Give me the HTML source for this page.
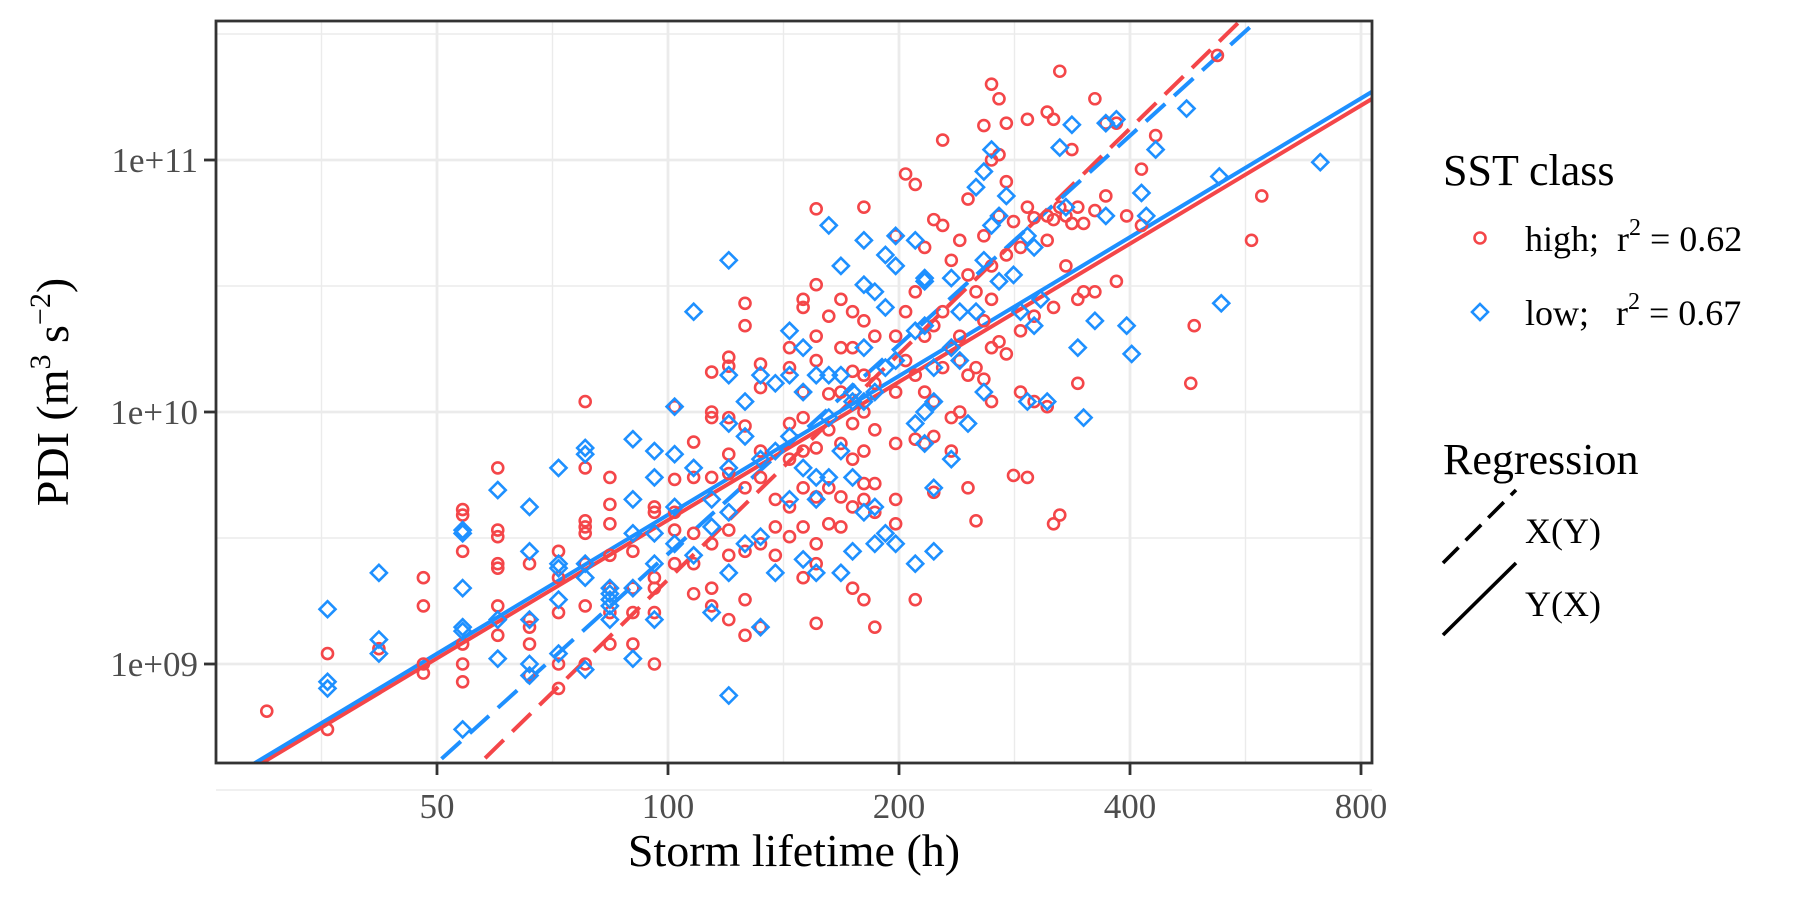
<!DOCTYPE html>
<html><head><meta charset="utf-8"><style>
html,body{margin:0;padding:0;background:#fff;overflow:hidden;width:1800px;height:900px;}
svg{display:block;font-family:"Liberation Serif",serif;}
</style></head><body>
<svg id="chart" width="1800" height="900" viewBox="0 0 1800 900" xmlns="http://www.w3.org/2000/svg">
<rect x="0" y="0" width="1800" height="900" fill="#fff"/>
<g id="grid"></g>
<g id="lines"></g>
<g id="pts"></g>
<rect x="216" y="21" width="1156" height="742" fill="none" stroke="#333" stroke-width="2.8"/>
<g id="axes"></g>
<text x="794" y="866" font-size="46" text-anchor="middle" fill="#000">Storm lifetime (h)</text>
<text transform="translate(68,392) rotate(-90)" font-size="46" text-anchor="middle" fill="#000">PDI (m<tspan font-size="30" dy="-18">3</tspan><tspan dy="18"> s</tspan><tspan font-size="30" dy="-18">−2</tspan><tspan dy="18">)</tspan></text>
<g>
<text x="1443" y="185" font-size="44" fill="#000">SST class</text>
<circle cx="1480" cy="238" r="5.5" fill="none" stroke="#F44649" stroke-width="2.6"/>
<text x="1525" y="251" font-size="36" fill="#000" xml:space="preserve">high;  r<tspan font-size="24" dy="-16">2</tspan><tspan dy="16"> = 0.62</tspan></text>
<path d="M1480 304 L1488 312 L1480 320 L1472 312 Z" fill="none" stroke="#1E90FF" stroke-width="2.6"/>
<text x="1525" y="325" font-size="36" fill="#000" xml:space="preserve">low;   r<tspan font-size="24" dy="-16">2</tspan><tspan dy="16"> = 0.67</tspan></text>
</g>
<g>
<text x="1443" y="474" font-size="44" fill="#000">Regression</text>
<line x1="1443" y1="563" x2="1516" y2="490" stroke="#000" stroke-width="3.6" stroke-dasharray="22,10"/>
<text x="1525" y="543" font-size="36" fill="#000">X(Y)</text>
<line x1="1443" y1="635" x2="1516" y2="563" stroke="#000" stroke-width="3.6"/>
<text x="1525" y="616" font-size="36" fill="#000">Y(X)</text>
</g>
</svg>
<script>
const xTicks=[50,100,200,400,800];
const xTickLabels=["50","100","200","400","800"];
const yTicks=[1e9,1e10,1e11];
const yTickLabels=["1e+09","1e+10","1e+11"];
// regression: log10(PDI) = a + b*log10(hours)
const regIntercept={highYX:5.927,lowYX:5.932,highXY:3.389,lowXY:3.925};
const regSlope={highYX:1.822,lowYX:1.83,highXY:2.973,lowXY:2.756};
// high SST: hours, PDI in 1e9
const highHours=[30,36,36,42,48,48,48,48,54,54,54,54,54,54,60,60,60,60,60,60,60,66,66,66,66,66,72,72,72,72,72,78,78,78,78,78,78,78,78,84,84,84,84,84,84,84,90,90,90,90,96,96,96,96,96,96,102,102,102,102,102,108,108,108,108,108,114,114,114,114,114,114,114,120,120,120,120,120,120,120,120,126,126,126,126,126,126,126,132,132,132,132,132,132,138,138,138,144,144,144,144,144,144,150,150,150,150,150,150,150,150,156,156,156,156,156,156,156,156,156,162,162,162,162,162,168,168,168,168,168,168,174,174,174,174,174,174,174,180,180,180,180,180,180,180,180,186,186,186,186,186,186,198,198,198,198,198,198,204,204,204,210,210,210,210,210,216,216,216,216,222,222,222,222,222,228,228,228,228,234,234,234,234,240,240,240,240,246,246,246,246,252,252,252,258,258,258,258,264,264,264,264,264,264,270,270,270,270,276,276,276,276,282,282,288,288,288,294,294,294,300,300,300,312,312,312,312,318,318,318,318,324,324,324,330,330,336,336,342,342,342,348,348,360,360,360,372,372,384,384,396,414,414,432,485,480,576,594,520];
const highPDI=[0.65,1.1,0.55,1.15,2.2,1.7,1.0,0.92,4.1,3.9,2.8,1.2,1.0,0.85,6.0,3.4,3.2,2.5,2.4,1.7,1.3,2.5,1.5,1.4,1.2,0.9,2.8,2.2,1.6,1.0,0.8,11,6.0,3.7,3.5,3.3,2.5,1.7,1.0,5.5,4.3,3.6,2.7,2.0,1.6,1.2,2.8,2.0,1.6,1.2,4.2,4.0,2.2,2.0,1.6,1.0,10.5,5.4,4.0,3.4,2.5,7.6,5.5,3.3,2.5,1.9,14.4,10.0,9.5,5.5,3.0,2.0,1.7,16.5,15.2,9.5,6.8,5.7,3.4,2.7,1.5,27,22,8.8,5.0,2.8,1.8,1.3,15.5,12.5,7.0,5.5,3.0,1.4,4.5,3.5,2.7,18,15,9.0,6.5,4.2,3.2,28,26,12,9.5,7.0,5.0,3.5,2.2,64,32,20,16,7.2,4.6,3.0,2.5,1.45,24,11.8,8.5,5.0,3.6,28,18,12,7.5,4.6,3.5,25,18,14.5,9.0,6.5,4.2,2.0,65,23,14,10,7.0,5.2,4.5,1.8,20,13,8.5,5.2,4.0,1.4,50,20,12,7.5,4.5,3.6,88,25,16,80,30,14,7.8,1.8,45,20,12,7.5,58,22,11,8,4.8,120,55,25,15,40,18,9.5,7.0,48,20,16,10,70,35,14,5.0,30,15,3.7,137,50,23,13.5,200,100,38,28,18,11,175,105,60,19,140,82,42,17,57,5.6,45,21,12,145,65,5.5,59,24,11,155,60,48,10.5,145,58,26,3.6,225,65,3.9,60,38,110,56,65,28,13,30,56,175,63,30,140,72,33,140,60,92,55,125,22,13,48,72,260];
// low SST
const lowHours=[36,36,36,42,42,42,54,54,54,54,54,54,60,60,60,66,66,66,66,66,72,72,72,72,72,78,78,78,78,78,84,84,84,84,84,90,90,90,90,90,96,96,96,96,96,102,102,102,102,108,108,108,114,114,114,120,120,120,120,120,120,120,126,126,126,132,132,132,132,138,138,138,144,144,144,144,150,150,150,150,156,156,156,156,162,162,162,162,168,168,168,168,174,174,174,174,180,180,180,180,180,186,186,186,186,192,192,192,192,198,198,198,198,210,210,210,210,216,216,216,216,216,222,222,222,222,234,234,234,240,240,246,252,252,258,258,258,264,264,270,270,276,282,288,294,294,300,300,306,312,324,330,336,342,348,360,372,372,384,396,402,414,420,432,474,523,526,708];
const lowPDI=[1.65,0.85,0.8,2.3,1.25,1.1,3.4,3.3,2.0,1.4,1.35,0.55,4.9,1.5,1.05,4.2,2.8,1.5,1.0,0.9,6.0,2.5,2.4,1.8,1.1,7.2,6.8,2.5,2.2,0.95,2.0,1.9,1.8,1.7,1.5,7.8,4.5,3.3,2.0,1.05,7.0,5.5,3.3,2.5,1.5,10.5,6.8,4.2,3.0,25,6.0,2.7,4.5,3.5,1.6,40,14,9.0,6.0,4.0,2.3,0.75,11,8.0,3.0,14,6.5,3.2,1.4,13,7.0,2.3,21,14,8.0,4.5,18,12,6.0,2.6,14,5.5,4.5,2.3,55,14,9.5,5.5,38,14,7.0,2.3,12,11,5.5,2.8,48,32,18,11,4.0,30,12,4.2,3.0,42,26,15,3.3,50,38,16,3.0,48,21,9,2.5,33,34,22,10,7.5,15,11,5.0,2.8,34,18,6.5,25,16,9,78,25,90,40,12,110,55,60,33,72,35,25,50,11,45,22,28,11,112,65,138,18,9.5,23,140,60,145,22,17,74,60,110,160,86,27,98];

const X0=668, XD=231, Y0=664, YD=252;
const xs=v=>X0+XD*Math.log2(v/100);
const ys=v=>Y0-YD*(Math.log10(v)-9);
const NS="http://www.w3.org/2000/svg";
function mk(tag,attrs,parent){const e=document.createElementNS(NS,tag);for(const k in attrs)e.setAttribute(k,attrs[k]);parent.appendChild(e);return e;}
const grid=document.getElementById('grid'),axes=document.getElementById('axes'),pts=document.getElementById('pts'),lines=document.getElementById('lines');
const L=216,R=1372,T=21,B=763;
[35.355,70.71,141.42,282.84,565.69].forEach(v=>{const l=mk('line',{x1:xs(v),x2:xs(v),y1:T,y2:B,stroke:'#EBEBEB','stroke-width':1.4},grid);

});
[10**8.5,10**9.5,10**10.5,10**11.5].forEach(v=>{const l=mk('line',{x1:L,x2:R,y1:ys(v),y2:ys(v),stroke:'#EBEBEB','stroke-width':1.4},grid);

});
xTicks.forEach((v,i)=>{const l=mk('line',{x1:xs(v),x2:xs(v),y1:T,y2:B,stroke:'#EBEBEB','stroke-width':2.8},grid);


const t=mk('line',{x1:xs(v),x2:xs(v),y1:B,y2:B+12,stroke:'#333','stroke-width':2.8},axes);


const tx=mk('text',{x:xs(v),y:B+55,'font-size':35,'text-anchor':'middle',fill:'#4D4D4D'},axes);tx.textContent=xTickLabels[i];

});
yTicks.forEach((v,i)=>{const l=mk('line',{x1:L,x2:R,y1:ys(v),y2:ys(v),stroke:'#EBEBEB','stroke-width':2.8},grid);


const t=mk('line',{x1:L-12,x2:L,y1:ys(v),y2:ys(v),stroke:'#333','stroke-width':2.8},axes);


const tx=mk('text',{x:L-18,y:ys(v)+12,'font-size':35,'text-anchor':'end',fill:'#4D4D4D'},axes);tx.textContent=yTickLabels[i];

});
const RED='#F44649',BLUE='#1E90FF';
const cp=mk('clipPath',{id:'clip'},document.getElementById('chart'));mk('rect',{x:L,y:T,width:R-L,height:B-T},cp);
pts.setAttribute('clip-path','url(#clip)');lines.setAttribute('clip-path','url(#clip)');
highHours.forEach((h,i)=>{const c=mk('circle',{cx:xs(h),cy:ys(highPDI[i]*1e9),r:5.5,fill:'none',stroke:RED,'stroke-width':2.6},pts);

});
lowHours.forEach((h,i)=>{const x=xs(h),y=ys(lowPDI[i]*1e9),d=8;const p=mk('path',{d:`M${x} ${y-d} L${x+d} ${y} L${x} ${y+d} L${x-d} ${y} Z`,fill:'none',stroke:BLUE,'stroke-width':2.6},pts);

});
function reg(key,color,dash,name){const h1=20,h2=900;const p1=[xs(h1),ys(10**(regIntercept[key]+regSlope[key]*Math.log10(h1)))],p2=[xs(h2),ys(10**(regIntercept[key]+regSlope[key]*Math.log10(h2)))];
const a={x1:p1[0],y1:p1[1],x2:p2[0],y2:p2[1],stroke:color,'stroke-width':4};if(dash)a['stroke-dasharray']='26,12';
const l=mk('line',a,lines);

}
reg('highXY',RED,true,'regression-high-xy');
reg('lowXY',BLUE,true,'regression-low-xy');
reg('highYX',RED,false,'regression-high-yx');
reg('lowYX',BLUE,false,'regression-low-yx');
</script>
</body></html>
